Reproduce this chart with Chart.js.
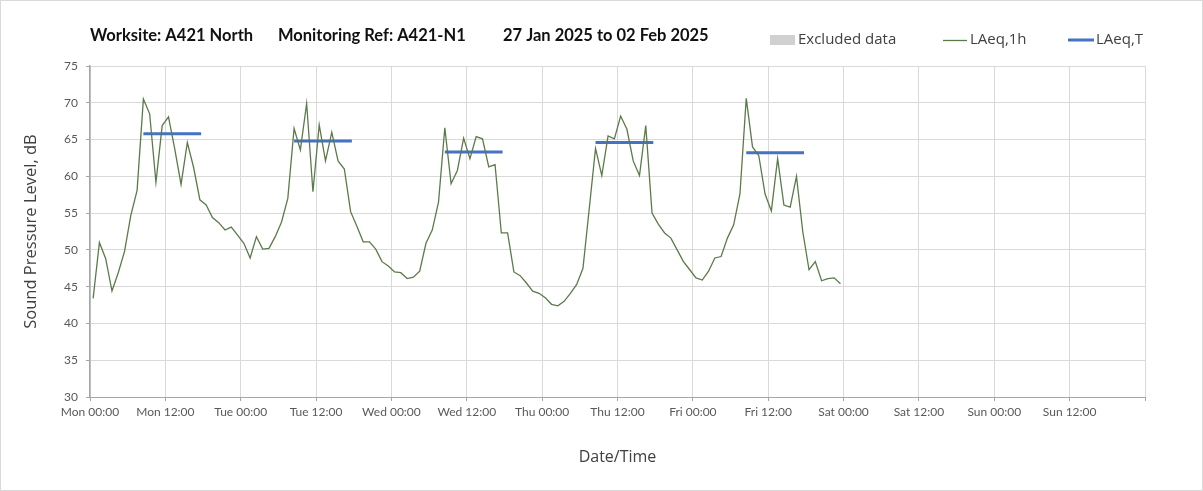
<!DOCTYPE html>
<html>
<head>
<meta charset="utf-8">
<script src="https://cdn.jsdelivr.net/npm/chart.js@4/dist/chart.umd.min.js"></script>
<style>
  html, body { margin: 0; padding: 0; background: #fff; }
  #wrap { width: 1203px; height: 491px; position: relative; }
</style>
</head>
<body>
<div id="wrap"><canvas id="c" width="1203" height="491"></canvas></div>
<script>
// ---- Data ----
const titleParts = ['Worksite: A421 North', 'Monitoring Ref: A421-N1', '27 Jan 2025 to 02 Feb 2025'];
const xTickLabels = ['Mon 00:00', 'Mon 12:00', 'Tue 00:00', 'Tue 12:00', 'Wed 00:00', 'Wed 12:00',
  'Thu 00:00', 'Thu 12:00', 'Fri 00:00', 'Fri 12:00', 'Sat 00:00', 'Sat 12:00', 'Sun 00:00', 'Sun 12:00'];
// hourly LAeq,1h values, Mon 00:00 onwards (plotted at mid-hour)
const laeq1h = [
  43.4, 51.0, 48.8, 44.4, 46.9, 49.8, 54.7, 58.1, 70.5, 68.5, 59.2, 66.9, 68.1, 63.7, 58.9, 64.6,
  61.2, 56.8, 56.1, 54.4, 53.7, 52.7, 53.1, 52.0,
  50.9, 48.9, 51.8, 50.1, 50.2, 51.8, 53.8, 57.0, 66.5, 63.6, 69.9, 57.9, 67.0, 62.1, 66.0, 62.1,
  61.0, 55.2, 53.2, 51.1, 51.1, 50.1, 48.4, 47.8,
  47.0, 46.9, 46.1, 46.3, 47.1, 50.9, 52.7, 56.5, 66.6, 59.0, 60.8, 65.2, 62.4, 65.4, 65.1, 61.3,
  61.6, 52.3, 52.3, 47.0, 46.5, 45.5, 44.4, 44.1,
  43.5, 42.6, 42.4, 43.0, 44.1, 45.3, 47.5, 55.6, 63.8, 60.1, 65.5, 65.1, 68.2, 66.4, 62.1, 60.1,
  66.9, 55.0, 53.5, 52.3, 51.6, 50.0, 48.4, 47.3,
  46.2, 45.9, 47.1, 48.9, 49.1, 51.6, 53.4, 57.6, 70.6, 64.0, 62.8, 57.6, 55.3, 62.4, 56.1, 55.8,
  60.0, 52.5, 47.3, 48.4, 45.8, 46.1, 46.2, 45.4
];
// LAeq,T daytime periods (hours from Mon 00:00)
const periodStart = [8.5, 32.5, 56.5, 80.5, 104.5];
const periodEnd = [17.7, 41.7, 65.7, 89.7, 113.7];
const laeqT = [65.8, 64.8, 63.3, 64.6, 63.2];
const excluded = [];

// ---- Build datasets ----
const hourlyPoints = laeq1h.map((v, i) => ({ x: i + 0.5, y: v }));
const tPoints = [];
laeqT.forEach((v, i) => {
  tPoints.push({ x: periodStart[i], y: v });
  tPoints.push({ x: periodEnd[i], y: v });
  tPoints.push({ x: periodEnd[i] + 0.1, y: null });
});

const FONT = 'Lato, "Open Sans", sans-serif';
const FONT2 = '"Open Sans", Lato, sans-serif';

const titleLegendPlugin = {
  id: 'titleLegend',
  afterDraw(chart) {
    const ctx = chart.ctx;
    ctx.save();
    ctx.strokeStyle = '#d9d9d9';
    ctx.lineWidth = 1;
    ctx.strokeRect(0.5, 0.5, chart.width - 1, chart.height - 1);
    // title
    ctx.fillStyle = '#111';
    ctx.font = 'bold 16.5px ' + FONT;
    ctx.textBaseline = 'middle';
    ctx.textAlign = 'left';
    const tx = [90, 278, 503];
    titleParts.forEach((t, i) => ctx.fillText(t, tx[i], 36));
    // legend
    const ds = chart.data.datasets;
    ctx.font = '15px ' + FONT2;
    const y = 40;
    ctx.fillStyle = ds[2].backgroundColor;
    ctx.fillRect(770, 35, 25, 10);
    ctx.fillStyle = '#404040';
    ctx.fillText(ds[2].label, 798, y);
    ctx.strokeStyle = ds[0].borderColor;
    ctx.lineWidth = 1.3;
    ctx.beginPath(); ctx.moveTo(943, y + 0.5); ctx.lineTo(967, y + 0.5); ctx.stroke();
    ctx.fillText(ds[0].label, 970, y);
    ctx.strokeStyle = ds[1].borderColor;
    ctx.lineWidth = 3;
    ctx.beginPath(); ctx.moveTo(1068, y); ctx.lineTo(1094, y); ctx.stroke();
    ctx.fillText(ds[1].label, 1096, y);
    ctx.restore();
  }
};

new Chart(document.getElementById('c'), {
  type: 'line',
  data: {
    datasets: [
      { label: 'LAeq,1h', data: hourlyPoints, borderColor: '#5b7a4a', borderWidth: 1.3,
        pointRadius: 0, tension: 0, fill: false },
      { label: 'LAeq,T', data: tPoints, borderColor: '#4472c4', borderWidth: 3,
        pointRadius: 0, tension: 0, spanGaps: false, fill: false, borderCapStyle: 'butt' },
      { label: 'Excluded data', data: excluded, backgroundColor: '#d0d0d0', borderWidth: 0,
        pointRadius: 0 }
    ]
  },
  options: {
    responsive: false,
    animation: false,
    devicePixelRatio: 1,
    layout: { padding: { left: 0, right: 58, top: 66, bottom: 0 } },
    plugins: { legend: { display: false }, title: { display: false }, tooltip: { enabled: false } },
    scales: {
      x: {
        type: 'linear', min: 0, max: 168, offset: false,
        afterFit(s) { s.height = 94; },
        afterBuildTicks(s) { s.ticks = []; for (let v = 0; v <= 168; v += 12) s.ticks.push({ value: v }); },
        ticks: {
          autoSkip: false, maxRotation: 0, minRotation: 0, padding: 4,
          color: '#595959', font: { family: FONT, size: 12 },
          callback: (v, i) => xTickLabels[i] ?? ''
        },
        grid: { offset: false, color: '#d9d9d9', tickColor: '#a6a6a6', tickLength: 4, lineWidth: 1 },
        border: { color: '#a6a6a6', width: 1 },
        title: { display: true, text: 'Date/Time', color: '#404040',
          font: { family: FONT2, size: 16 }, padding: { top: 0, bottom: 24 } }
      },
      y: {
        min: 30, max: 75,
        afterFit(s) { s.width = 90; },
        ticks: { stepSize: 5, padding: 8, color: '#595959', font: { family: FONT, size: 12 } },
        grid: { color: '#d9d9d9', tickColor: '#a6a6a6', tickLength: 4, lineWidth: 1 },
        border: { color: '#a6a6a6', width: 1.5 },
        title: { display: true, text: 'Sound Pressure Level, dB', color: '#404040',
          font: { family: FONT2, size: 16.5 }, padding: { top: 21, bottom: 0 } }
      }
    }
  },
  plugins: [titleLegendPlugin]
});
</script>
</body>
</html>
